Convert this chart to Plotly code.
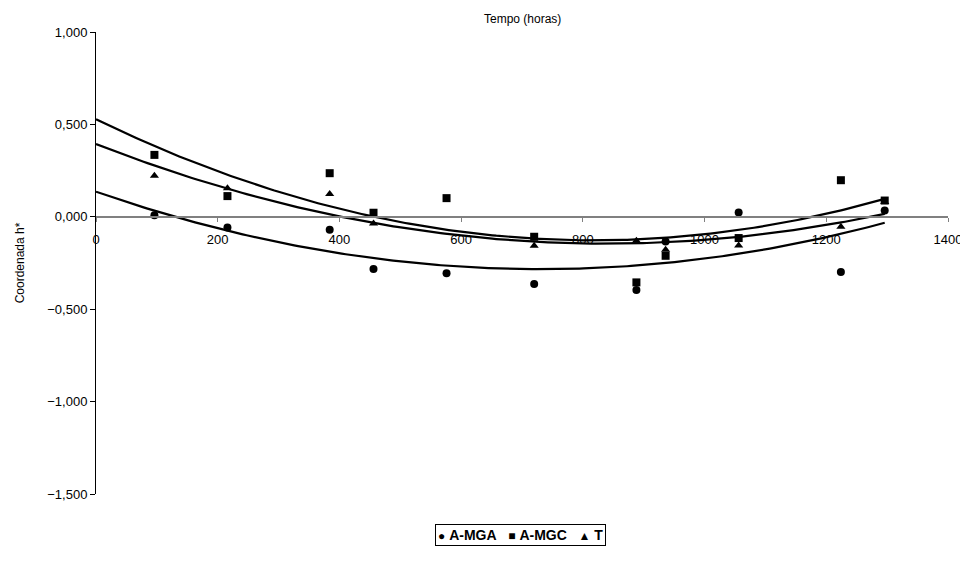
import numpy as np
import plotly.graph_objects as go

hours = [96, 216, 384, 456, 576, 720, 888, 936, 1056, 1224, 1296]
a_mga = [0.009, -0.058, -0.070, -0.283, -0.305, -0.364, -0.396, -0.133, 0.023, -0.299, 0.034]
a_mgc = [0.335, 0.112, 0.236, 0.022, 0.101, -0.108, -0.355, -0.211, -0.115, 0.198, 0.088]
t_ser = [0.222, 0.155, 0.123, -0.036, None, -0.157, -0.130, -0.178, -0.155, -0.054, 0.080]

names = ["A-MGA", "A-MGC", "T"]
symbols = ["circle", "square", "triangle-up"]
legend_glyphs = ["●", "■", "▲"]
series = [a_mga, a_mgc, t_ser]

fig = go.Figure()
xfit = np.linspace(0, 1296, 200)
for name, sym, ys in zip(names, symbols, series):
    xs = [x for x, y in zip(hours, ys) if y is not None]
    yv = [y for y in ys if y is not None]
    coef = np.polyfit(xs, yv, 2)
    fig.add_trace(go.Scatter(x=xfit, y=np.polyval(coef, xfit), mode="lines",
                             line=dict(color="black", width=2.2), showlegend=False,
                             hoverinfo="skip"))
for name, sym, ys in zip(names, symbols, series):
    fig.add_trace(go.Scatter(x=hours, y=ys, mode="markers", name=name, showlegend=False,
                             marker=dict(symbol=sym, color="black", size=8)))

legend_text = "&nbsp;&nbsp;&nbsp;".join(
    f"<span style='font-size:12px'>{g}</span> <b>{n}</b>" for g, n in zip(legend_glyphs, names)
)

fig.update_layout(
    width=960, height=540,
    margin=dict(l=88, r=20, t=24, b=54),
    paper_bgcolor="white", plot_bgcolor="white",
    separators=",.",
    font=dict(family="Liberation Sans, Arial, sans-serif", size=12, color="black"),
    showlegend=False,
    annotations=[
        dict(text="Tempo (horas)", x=0.5, y=1, xref="paper", yref="paper",
             yanchor="bottom", yshift=4, showarrow=False, font=dict(size=12)),
        dict(text=legend_text, x=0.498, y=-0.089, xref="paper", yref="paper",
             xanchor="center", yanchor="middle", showarrow=False,
             bordercolor="black", borderwidth=1, borderpad=2,
             font=dict(size=14, color="black")),
    ],
)
fig.update_xaxes(range=[0, 1400], tickvals=[0, 200, 400, 600, 800, 1000, 1200, 1400],
                 showgrid=False, zeroline=False, showline=True, linecolor="#808080",
                 linewidth=2, ticks="outside", ticklen=4, tickcolor="#808080",
                 ticklabelstandoff=6, automargin=False,
                 anchor="free", position=0.5996, tickfont=dict(size=13))
fig.update_yaxes(range=[-1.5, 1.0], tickvals=[-1.5, -1.0, -0.5, 0, 0.5, 1.0],
                 tickformat=".3f", showgrid=False, zeroline=False, showline=True,
                 linecolor="black", linewidth=1, ticks="outside", ticklen=5,
                 tickcolor="black", tickfont=dict(size=13), automargin=False,
                 title=dict(text="Coordenada h*", font=dict(size=12), standoff=20))

fig.write_html("out.html")
